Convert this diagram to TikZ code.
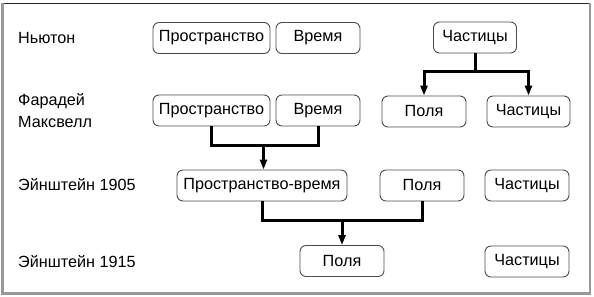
\documentclass[tikz,border=0pt]{standalone}
\usepackage{fontspec}
\setmainfont{Liberation Sans}
\usetikzlibrary{arrows.meta}
\begin{document}
\begin{tikzpicture}[x=1pt,y=-1pt,
  box/.style={draw=black!70, rounded corners=6pt, line width=0.9pt, minimum height=31pt, inner sep=0pt, font=\fontsize{16.2}{19}\selectfont},
  lbl/.style={anchor=west, font=\fontsize{16.2}{22}\selectfont, align=left, inner sep=0pt},
  conn/.style={line width=3pt, line join=miter},
  arr/.style={conn, -{Triangle[length=10pt,width=7pt]}}]
\useasboundingbox (0,0) rectangle (594,297);
% frame
\draw[black!85, line width=1.2pt] (2,3.5) -- (590,3.5);
\draw[black!40, line width=2.2pt] (2.5,3) -- (2.5,293.5) -- (590,293.5) -- (590,3);
% labels
\node[lbl] (newton) at (18,38) {Ньютон};
\node[lbl] (faraday) at (18,111) {Фарадей\\Максвелл};
\node[lbl] (e1905) at (18,185) {Эйнштейн 1905};
\node[lbl] (e1915) at (18,262) {Эйнштейн 1915};
% row 1
\node[box, minimum width=117pt] (sp1) at (211.5,38) {Пространство};
\node[box, minimum width=84pt] (t1) at (318,38) {Время};
\node[box, minimum width=83pt] (p1) at (475,37.5) {Частицы};
% row 2
\node[box, minimum width=117pt] (sp2) at (211.5,110.5) {Пространство};
\node[box, minimum width=84pt] (t2) at (318,110.5) {Время};
\node[box, minimum width=84pt] (f2) at (424,111.5) {Поля};
\node[box, minimum width=83pt] (p2) at (528.5,111.5) {Частицы};
% row 3
\node[box, minimum width=170pt] (st3) at (262,185.5) {Пространство-время};
\node[box, minimum width=84pt] (f3) at (422,185.5) {Поля};
\node[box, minimum width=84pt] (p3) at (527,185.5) {Частицы};
% row 4
\node[box, minimum width=84pt] (f4) at (342,261) {Поля};
\node[box, minimum width=84pt] (p4) at (527,261.5) {Частицы};
% connectors
\coordinate (j1) at (475,71.5);
\draw[conn] (p1.south) -- (j1);
\draw[arr] (j1) -| (f2.north);
\draw[arr] (j1) -| (p2.north);
\coordinate (j2) at (263.5,145);
\draw[conn] (sp2.south) |- (j2) -| (t2.south);
\draw[arr] (j2) -- (j2 |- st3.north);
\coordinate (j3) at (342,220);
\draw[conn] (st3.south) |- (j3) -| (f3.south);
\draw[arr] (j3) -- (f4.north);
\end{tikzpicture}
\end{document}
